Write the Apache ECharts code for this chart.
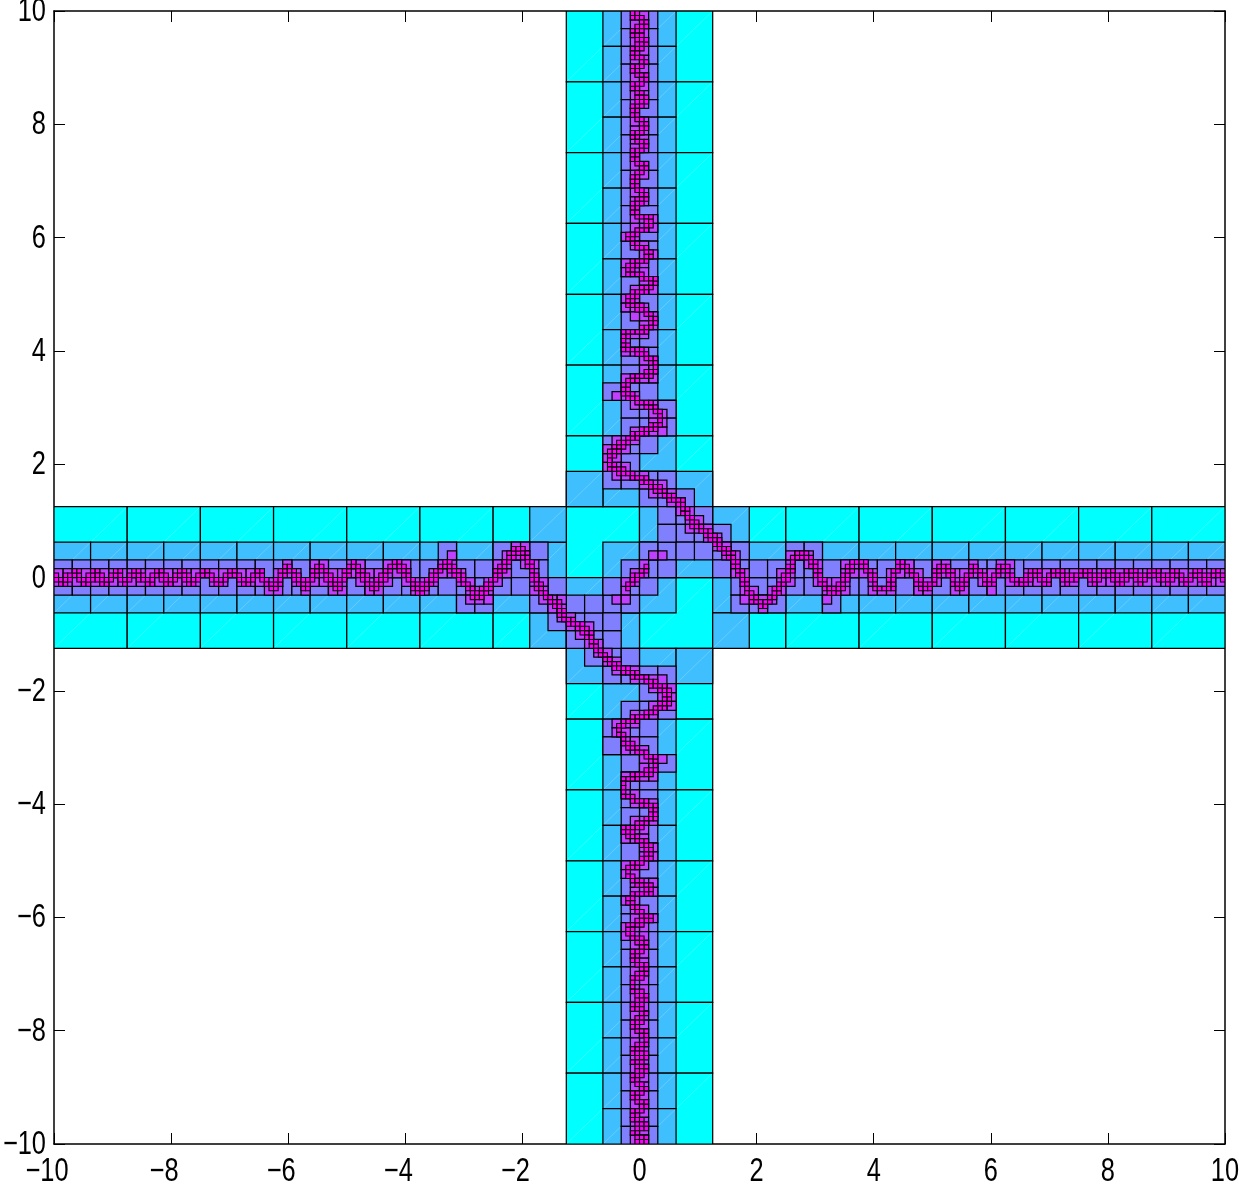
<!DOCTYPE html>
<html><head><meta charset="utf-8">
<style>html,body{margin:0;padding:0;background:#fff}#c{width:1239px;height:1184px}</style>
<script src="https://cdn.jsdelivr.net/npm/echarts@6/dist/echarts.min.js"></script>
</head><body><div id="c"></div>
<script>
// Curve vertices, [x, y]
const leftArm=[[-10,.04],[-9.87,-.09],[-9.64,.1],[-9.47,-.1],[-9.3,.1],[-9.13,-.1],[-8.93,.1],[-8.79,-.1],[-8.62,.1],[-8.39,-.1],[-8.22,.1],[-8.02,-.1],[-7.82,.1],[-7.62,-.1],[-7.42,.1],[-7.19,-.1],[-6.97,.1],[-6.71,-.1],[-6.51,.1],[-6.25,-.21],[-6.01,.22],[-5.71,-.19],[-5.46,.22],[-5.17,-.19],[-4.89,.25],[-4.55,-.19],[-4.15,.28],[-3.75,-.25],[-3.29,.28],[-2.75,-.37],[-2.07,.53]];
const lowerCurve=[[-1.96,.4],[-1.84,.16],[-1.76,-.07],[-1.64,-.28],[-1.41,-.48],[-1.3,-.69],[-1.05,-.84],[-.87,-1.01],[-.73,-1.28],[-.5,-1.49],[-.22,-1.66],[.12,-1.8],[.38,-1.96],[.52,-2.07],[.44,-2.22],[.24,-2.37],[.01,-2.47],[-.28,-2.56],[-.36,-2.69],[-.25,-2.9],[-.1,-3.01],[.12,-3.13],[.28,-3.25],[.24,-3.4],[.01,-3.49],[-.25,-3.57],[-.28,-3.69],[-.25,-3.84],[-.05,-3.94],[.24,-4.07],[.24,-4.22],[.01,-4.37],[-.22,-4.43]];
const lowerArm=[[-.25,-4.49],[-.05,-4.6],[.21,-4.81],[.12,-4.96],[-.13,-5.1],[-.22,-5.19],[-.1,-5.34],[.18,-5.46],[.18,-5.55],[-.1,-5.6],[-.22,-5.69],[-.05,-5.84],[.15,-6.02],[-.05,-6.13],[-.22,-6.22],[-.13,-6.34],[.12,-6.49],[-.1,-6.66],[-.1,-6.75],[.09,-6.87],[.09,-6.99],[-.1,-7.07],[-.13,-7.31],[.09,-7.37],[.09,-7.45],[-.1,-7.55],[.09,-7.69],[-.1,-7.93],[.09,-8.07],[.09,-8.25],[-.1,-8.34],[.09,-8.46],[-.1,-8.55],[.09,-8.69],[-.1,-8.84],[.09,-9.02],[-.1,-9.16],[.09,-9.31],[-.1,-9.49],[.09,-9.69],[-.1,-9.81],[.09,-9.93],[-.05,-10]];
const upperArm=[[-.1,10],[-.1,9.96],[.09,9.78],[-.1,9.61],[.09,9.43],[-.1,9.31],[-.1,9.22],[.09,9.1],[-.1,8.96],[.09,8.81],[-.1,8.64],[.09,8.43],[-.1,8.25],[-.1,8.16],[.09,8.02],[.09,7.93],[-.1,7.78],[.09,7.64],[-.1,7.46],[-.1,7.37],[.12,7.28],[-.1,7.02],[-.1,6.93],[.09,6.75],[-.1,6.52],[-.1,6.43],[.21,6.31],[.21,6.22],[-.19,6.02],[-.1,5.9],[.21,5.72],[.21,5.66],[-.22,5.49],[-.16,5.4],[.24,5.22],[.12,5.08],[-.22,4.96],[-.22,4.87],[.09,4.72],[.24,4.55],[.15,4.4],[-.28,4.28],[-.25,4.07],[.01,3.99],[.27,3.81],[.27,3.63],[-.1,3.52],[-.25,3.4],[-.22,3.25],[.01,3.1],[.24,3.02],[.38,2.84],[.35,2.69],[.12,2.6],[-.1,2.49],[-.36,2.31],[-.53,2.1],[-.5,1.96]];
const upperCurve=[[-.22,1.84],[.12,1.69],[.41,1.49],[.69,1.34],[.81,1.1],[.98,.9],[1.23,.75],[1.37,.55],[1.57,.4],[1.66,.19],[1.77,.01],[1.83,-.19],[1.95,-.4],[2.09,-.49]];
const rightArm=[[2.26,-.37],[2.4,-.16],[2.54,.07],[2.63,.31],[2.74,.4],[2.91,.37],[3.05,.1],[3.17,-.19],[3.37,-.25],[3.51,-.04],[3.62,.25],[3.82,.25],[3.97,.04],[4.05,-.22],[4.28,-.19],[4.34,.07],[4.48,.25],[4.65,.1],[4.82,-.19],[5.02,-.13],[5.13,.22],[5.3,.1],[5.42,-.19],[5.59,-.04],[5.7,.22],[5.85,.05],[5.99,-.13],[6.21,.22],[6.38,-.04],[6.56,-.1],[6.75,.13],[6.93,-.1],[7.12,.13],[7.32,-.07],[7.64,.13],[7.78,-.07],[8.01,.13],[8.21,-.07],[8.4,.13],[8.58,-.07],[8.77,.13],[9,-.07],[9.17,.1],[9.34,-.07],[9.52,.1],[9.69,-.07],[9.83,.1],[10,-.04]];
const innerCurve=[[-.22,-.19],[-.08,-.01],[.12,.16]];
// spots that carry a purple cell but no finest cell
const purpleSpots=[[.38,.4],[.3,.4],[-.33,-.37],[-.25,-.37],[-.33,-.45],[.38,.32],[-3.21,.4],[-2.58,-.38],[2.57,.4],[1.785,-.385],[3.21,-.385],[-6.01,.28],[6.01,-.25],[6.27,.25],[-.4,3.2],[-.1,4.6],[.38,2.57],[-.39,-2.57],[.38,-3.19],[-.39,1.81],[.38,-1.78]];
// spots that carry only a violet cell
const violetSpots=[[.78,.49],[.46,.78],[.78,.78],[.46,.16],[-.78,-.46],[-.47,-.78],[-.78,-.78],[-.46,-.16]];
// spots that carry only a blue cell
const blueSpots=[[-1.5,.9],[1.5,-.9],[-.9,1.5],[.9,-1.5],[.9,1.5],[-.9,-1.5]];
const xTicks=[-10,-8,-6,-4,-2,0,2,4,6,8,10];
const yTicks=[-10,-8,-6,-4,-2,0,2,4,6,8,10];
const levelColors=['#00FFFF','#40BFFF','#8080FF','#BF40FF','#FF00FF'];
const levelSizes=[1.25,.625,.3125,.15625,.078125];
const levelPads=[.03,.03,.05,0,0];
const curveHalfWidth=.01;

const curves=[leftArm.concat(lowerCurve,lowerArm),upperArm.concat(upperCurve,rightArm),innerCurve];
const fine=new Map();
const h=levelSizes[4];
function mark(x,y){const i=Math.floor(x/h),j=Math.floor(y/h);if(i>=-128&&j>=-128&&i<128&&j<128)fine.set(i+','+j,[i,j]);}
const e=curveHalfWidth;
curves.forEach(c=>{for(let s=0;s<c.length-1;s++){const [a,b]=c[s],[p,q]=c[s+1],n=Math.ceil(Math.hypot(p-a,q-b)/.004);
  for(let t=0;t<=n;t++){const x=a+(p-a)*t/n,y=b+(q-b)*t/n;mark(x-e,y-e);mark(x+e,y-e);mark(x-e,y+e);mark(x+e,y+e);}}});
const cells=[];
levelSizes.forEach((s,k)=>{
  const active=new Map(),d=levelPads[k];
  const add=(x0,y0,x1,y1)=>{
    // violet cells spread only along an arm, not across it
    let dx=d,dy=d;
    if(k===2){if(Math.abs(x0)>1.9)dy=0;else if(Math.abs(y0)>1.9)dx=0;}
    for(let i=Math.floor((x0-dx)/s);i*s<x1+dx-1e-9;i++)for(let j=Math.floor((y0-dy)/s);j*s<y1+dy-1e-9;j++){
      if(i*s>=-10&&i*s<10&&j*s>=-10&&j*s<10)active.set(i+','+j,[i*s,j*s,(i+1)*s,(j+1)*s,k]);}};
  fine.forEach(([i,j])=>add(i*h,j*h,(i+1)*h,(j+1)*h));
  if(k<4)purpleSpots.forEach(([x,y])=>add(x,y,x+.01,y+.01));
  if(k<3)violetSpots.forEach(([x,y])=>add(x,y,x+.01,y+.01));
  if(k<2)blueSpots.forEach(([x,y])=>add(x,y,x+.01,y+.01));
  active.forEach(v=>cells.push(v));
});
const labels=xTicks.map(v=>[v,-10,0]).concat(yTicks.map(v=>[-10,v,1]));
const chart=echarts.init(document.getElementById('c'),null,{renderer:'canvas'});
function axis(pos){return {type:'value',min:-10,max:10,interval:2,position:pos,splitLine:{show:false},
  axisLine:{show:true,onZero:false,lineStyle:{color:'#000',width:1.5}},axisTick:{show:true,inside:true,length:11,lineStyle:{color:'#000',width:1}},
  axisLabel:{show:false}};}
chart.setOption({animation:false,backgroundColor:'#fff',
  grid:{left:54,right:14,top:11,bottom:40,containLabel:false,outerBoundsMode:'none'},
  xAxis:[axis('bottom'),axis('top')],
  yAxis:[axis('left'),axis('right')],
  series:[{type:'custom',coordinateSystem:'cartesian2d',clip:true,silent:true,
    encode:{x:[0,2],y:[1,3]},data:cells,
    renderItem:(p,api)=>{
      const a=api.coord([api.value(0),api.value(1)]),b=api.coord([api.value(2),api.value(3)]),k=api.value(4);
      const children=[{type:'rect',shape:{x:a[0],y:b[1],width:b[0]-a[0],height:a[1]-b[1]},
        style:{fill:levelColors[k],stroke:'#000',lineWidth:k===4?1.1:1.25}}];
      if(k<2)children.push({type:'line',shape:{x1:a[0]+1,y1:a[1]-1,x2:b[0]-1,y2:b[1]+1},style:{stroke:'rgba(255,255,255,0.2)',lineWidth:1}});
      return {type:'group',children};
    }},
   {type:'custom',coordinateSystem:'cartesian2d',clip:false,silent:true,z:5,
    encode:{x:0,y:1},data:labels,
    renderItem:(p,api)=>{
      const c=api.coord([api.value(0),api.value(1)]),isY=api.value(2)===1;
      const v=isY?api.value(1):api.value(0);
      return {type:'text',x:isY?c[0]-8:c[0]-(v<0?7:0),y:isY?c[1]+1:c[1]+28,scaleX:.77,
        style:{text:String(v).replace('-','\u2212'),fontFamily:'"Liberation Sans",sans-serif',fontSize:33,fill:'#000',
          align:isY?'right':'center',verticalAlign:'middle'}};
    }}]
});
</script></body></html>
